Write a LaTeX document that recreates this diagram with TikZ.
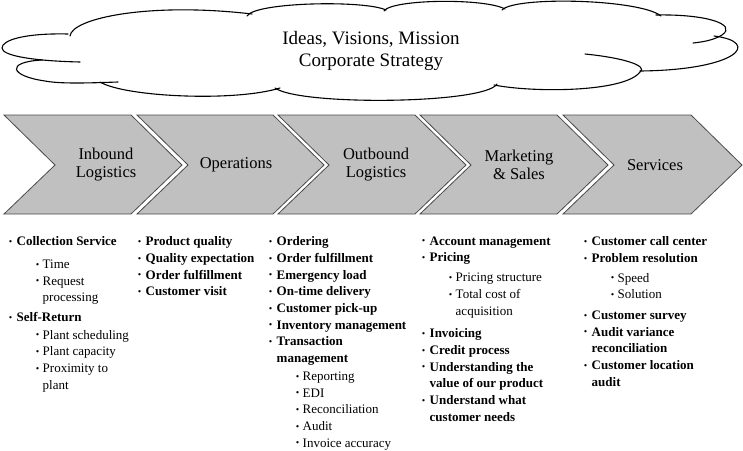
\documentclass[tikz,border=0pt]{standalone}
\usepackage{fontspec}
\setmainfont{Liberation Serif}
\usepackage{graphicx}
\usetikzlibrary{calc}
\definecolor{chevgray}{HTML}{C0C0C0}
\definecolor{chevedge}{HTML}{4A4A4A}

% bullets for the lists under the chevrons
\newcommand{\dotb}{\raisebox{1.3pt}{\scalebox{0.65}{\textbullet}}}
\newcommand{\bitem}[1]{\makebox[7.5pt][l]{\dotb}#1}
\newcommand{\bcont}[1]{\hspace*{7.5pt}#1}
\newcommand{\sitem}[1]{\hspace*{27pt}\makebox[6.5pt][l]{\dotb}{\mdseries #1}}
\newcommand{\scont}[1]{\hspace*{33.5pt}{\mdseries #1}}

\begin{document}
\begin{tikzpicture}[x=1pt,y=-1pt,
  chev/.style={fill=chevgray,draw=chevedge,line width=0.8pt},
  chevlabel/.style={align=center,inner sep=0pt,font=\fontsize{16.5}{18}\selectfont},
  cloudtext/.style={align=center,inner sep=0pt,font=\fontsize{19}{22}\selectfont},
  cloudline/.style={line width=1.1pt,line cap=round},
  list/.style={anchor=north west,align=left,inner sep=0pt,font=\fontsize{13}{16.7}\selectfont\bfseries}]
  \useasboundingbox (0,0) rectangle (743,450);

  % cloud
  \draw[cloudline] (70,36) .. controls (72,18) and (150,2) .. (252,14);
  \draw[cloudline] (247,16) .. controls (255,2) and (365,0) .. (386,10);
  \draw[cloudline] (384,11) .. controls (392,-1) and (485,-2) .. (505,9);
  \draw[cloudline] (502,10) .. controls (515,-4) and (640,-1) .. (661,16);
  \draw[cloudline] (656,15) .. controls (705,14) and (738,24) .. (722,35)
                   .. controls (714,40) and (703,42) .. (693,43);
  \draw[cloudline] (714,36) .. controls (762,42) and (738,70) .. (640,71);
  \draw[cloudline] (585,54) .. controls (625,58) and (648,66) .. (640,72)
                   .. controls (625,92) and (535,93) .. (494,85);
  \draw[cloudline] (497,84) .. controls (485,104) and (300,106) .. (275,88);
  \draw[cloudline] (280,88) .. controls (235,102) and (125,97) .. (100,82);
  \draw[cloudline] (118,82) .. controls (90,83) and (60,84) .. (45,81)
                   .. controls (10,76) and (5,62) .. (42,60);
  \draw[cloudline] (68,34) .. controls (25,33) and (2,40) .. (2,48)
                   .. controls (2,56) and (35,61) .. (80,62);
  \node[cloudtext] (vision) at (371,51) {Ideas, Visions, Mission\\Corporate Strategy};

  % value chain
  \foreach \l/\r/\tx/\nm/\txt in {4/131/106/inb/{Inbound\\Logistics},
      137/273/236/ops/{Operations},
      278/415/376/outb/{Outbound\\Logistics},
      420/557/519/mkt/{Marketing\\\& Sales},
      563/691/655/srv/{Services}}{
    \draw[chev] (\l,115) -- (\r,115) -- (\r+51,165) -- (\r,214) -- (\l,214) -- (\l+51,165) -- cycle;
    \node[chevlabel] (\nm) at (\tx,165) {\txt};
  }

  % activities
  \node[list] (inblist) at (9,236.5) {%
    \bitem{Collection Service}\\[6pt]
    \sitem{Time}\\
    \sitem{Request}\\
    \scont{processing}\\[3pt]
    \bitem{Self-Return}\\[1pt]
    \sitem{Plant scheduling}\\
    \sitem{Plant capacity}\\
    \sitem{Proximity to}\\
    \scont{plant}};
  \node[list] (opslist) at (138,236.5) {%
    \bitem{Product quality}\\
    \bitem{Quality expectation}\\
    \bitem{Order fulfillment}\\
    \bitem{Customer visit}};
  \node[list] (outblist) at (269,236.5) {%
    \bitem{Ordering}\\
    \bitem{Order fulfillment}\\
    \bitem{Emergency load}\\
    \bitem{On-time delivery}\\
    \bitem{Customer pick-up}\\
    \bitem{Inventory management}\\
    \bitem{Transaction}\\
    \bcont{management}\\[1pt]
    \sitem{Reporting}\\
    \sitem{EDI}\\
    \sitem{Reconciliation}\\
    \sitem{Audit}\\
    \sitem{Invoice accuracy}};
  \node[list] (mktlist) at (422,236.5) {%
    \bitem{Account management}\\
    \bitem{Pricing}\\[3pt]
    \sitem{Pricing structure}\\
    \sitem{Total cost of}\\
    \scont{acquisition}\\[6pt]
    \bitem{Invoicing}\\
    \bitem{Credit process}\\
    \bitem{Understanding the}\\
    \bcont{value of our product}\\
    \bitem{Understand what}\\
    \bcont{customer needs}};
  \node[list] (srvlist) at (584,236.5) {%
    \bitem{Customer call center}\\
    \bitem{Problem resolution}\\[3pt]
    \sitem{Speed}\\
    \sitem{Solution}\\[4pt]
    \bitem{Customer survey}\\
    \bitem{Audit variance}\\
    \bcont{reconciliation}\\
    \bitem{Customer location}\\
    \bcont{audit}};
\end{tikzpicture}
\end{document}
